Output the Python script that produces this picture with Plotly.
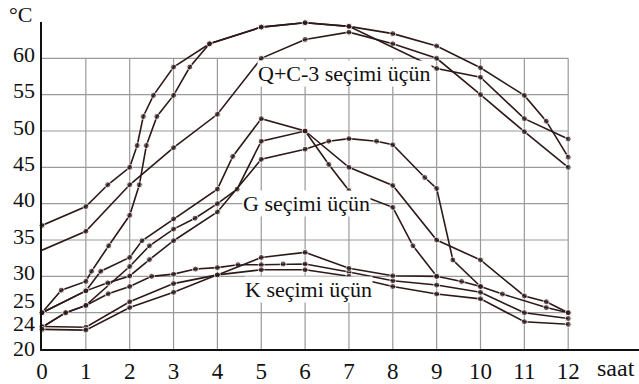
import plotly.graph_objects as go

# ---------------- data ----------------
# Q+C-3 group
Q1_x = [0, 1, 1.5, 2, 2.17, 2.31, 2.54, 3, 3.82, 5, 6, 7, 8, 9, 10, 11, 11.5, 12]
Q1_y = [37, 39.6, 42.6, 45, 48, 52, 54.9, 58.8, 62, 64.3, 64.9, 64.4, 63.4, 61.7, 58.7, 54.9, 51.35, 46.4]
Q2_x = [0, 1, 2, 3, 4, 5, 6, 7, 8, 9, 10, 11, 12]
Q2_y = [33.6, 36.2, 42.6, 47.7, 52.3, 60, 62.6, 63.6, 62.0, 60.0, 55.0, 49.9, 45.0]
Q3_x = [0, 0.44, 1, 1.13, 1.52, 2, 2.22, 2.38, 2.62, 3, 3.37, 3.82, 5, 6, 7, 9, 10, 11, 12]
Q3_y = [25, 28.1, 29.3, 30.7, 34.2, 38.4, 42.6, 48, 52, 54.9, 58.8, 62, 64.3, 64.9, 64.4, 58.6, 57.4, 51.7, 48.9]

# G group
GA_x = [0, 1, 1.34, 2, 2.28, 3, 4, 4.35, 5, 6, 6.54, 7, 8, 8.46, 9]
GA_y = [25, 28, 30.7, 32.6, 34.9, 37.9, 42.0, 46.5, 51.7, 50, 45.4, 41.8, 39.5, 34.2, 30.0]
GB_x = [0, 0.54, 1, 2, 2.45, 3, 3.49, 4, 4.45, 5, 6, 7, 8, 9, 10, 11, 11.5, 12]
GB_y = [23, 25, 26, 31.35, 34.2, 36.5, 38.0, 40.0, 42.0, 48.6, 50, 45, 42.5, 35, 32.25, 27.3, 26.5, 25]
GC_x = [0, 1, 1.5, 2, 2.45, 3, 4, 5, 6, 6.54, 7, 7.63, 8, 8.73, 9, 9.37, 10]
GC_y = [25, 28, 29.1, 30.05, 32.3, 34.9, 38.85, 46.1, 47.5, 48.6, 48.95, 48.6, 48.1, 43.6, 42.1, 32.25, 28.6]

# K group
K1_x = [0, 0.54, 1, 1.51, 2, 2.5, 3, 3.5, 4, 4.47, 5, 5.5, 6, 7, 8, 9, 10, 11, 12]
K1_y = [23, 25, 26, 27.6, 28.6, 30.0, 30.3, 31.0, 31.2, 31.6, 31.6, 31.7, 31.7, 30.6, 29.4, 28.8, 27.8, 25.0, 24.2]
K2_x = [0, 1, 2, 3, 4, 5, 6, 7, 8, 9, 9.57, 10, 10.5, 11.5, 12]
K2_y = [23.1, 23.0, 26.5, 29.0, 30.2, 32.6, 33.3, 31.1, 30.07, 30.0, 29.3, 28.6, 27.57, 25.7, 25.0]
K3_x = [0, 1, 2, 3, 4, 5, 6, 7, 8, 9, 10, 11, 12]
K3_y = [22.7, 22.6, 25.7, 27.8, 30.2, 30.9, 30.9, 30.0, 28.6, 27.57, 26.9, 23.75, 23.4]

X_TICKS = list(range(0, 13))
Y_LABELS = [20, 24, 25, 30, 35, 40, 45, 50, 55, 60]
GRID_Y = [25, 30, 35, 40, 45, 50, 55, 60]
GRID_X = list(range(1, 13))

GROUP_LABELS = ["Q+C-3 seçimi üçün", "G seçimi üçün", "K seçimi üçün"]
GROUP_POS = [(6.9, 57.9), (6.03, 40.0), (6.08, 28.25)]

# --------------- figure ---------------
LINE = "#2e1919"
FONT = "Liberation Serif, DejaVu Serif, Noto Serif, serif"
fig = go.Figure()

series = [(Q1_x, Q1_y), (Q2_x, Q2_y), (Q3_x, Q3_y),
          (GA_x, GA_y), (GB_x, GB_y), (GC_x, GC_y),
          (K1_x, K1_y), (K2_x, K2_y), (K3_x, K3_y)]
for i, (xs, ys) in enumerate(series):
    sizes = [6] * len(xs)
    if i == 1:
        sizes[0] = 0
    fig.add_trace(go.Scatter(x=xs, y=ys, mode="lines+markers",
                             line=dict(color=LINE, width=1.6),
                             marker=dict(size=sizes, color=LINE),
                             showlegend=False, cliponaxis=False,
                             hoverinfo="skip"))

shapes = []
for gx in GRID_X:
    shapes.append(dict(type="line", xref="x", yref="y", x0=gx, x1=gx, y0=20, y1=60,
                       line=dict(color="#9a9a9a", width=1.2), layer="below"))
for gy in GRID_Y:
    shapes.append(dict(type="line", xref="x", yref="y", x0=0, x1=12, y0=gy, y1=gy,
                       line=dict(color="#9a9a9a", width=1.2), layer="below"))

annotations = []
yshift = {20: 1, 24: -4, 25: 12}
for v in Y_LABELS:
    annotations.append(dict(text=str(v), xref="paper", x=0, xanchor="right", xshift=-5,
                            yref="y", y=v, yanchor="middle", yshift=yshift.get(v, 4),
                            showarrow=False, font=dict(family=FONT, size=22, color="#111")))
for t, (ax, ay) in zip(GROUP_LABELS, GROUP_POS):
    annotations.append(dict(text=t, x=ax, y=ay, xref="x", yref="y", showarrow=False,
                            bgcolor="white", borderpad=0,
                            font=dict(family=FONT, size=22, color="#111")))
annotations.append(dict(text="saat", xref="x", x=13.1, yref="y", y=20, yanchor="top",
                        yshift=-4, showarrow=False,
                        font=dict(family=FONT, size=24, color="#111")))
annotations.append(dict(text="°C", xref="paper", x=0, xanchor="right", xshift=-8,
                        yref="y", y=65, yanchor="middle", yshift=8, showarrow=False,
                        font=dict(family=FONT, size=22, color="#111")))

fig.update_layout(
    width=639, height=384,
    margin=dict(l=42, r=0, t=22, b=32),
    plot_bgcolor="white", paper_bgcolor="white",
    font=dict(family=FONT),
    xaxis=dict(range=[0, 597 / 43.85], showgrid=False, zeroline=False,
               showline=True, linecolor="#111", linewidth=2,
               tickvals=X_TICKS, ticktext=[str(v) for v in X_TICKS], ticks="",
               tickfont=dict(family=FONT, size=23, color="#111")),
    yaxis=dict(range=[20, 65], showgrid=False, zeroline=False,
               showline=True, linecolor="#111", linewidth=2,
               showticklabels=False, ticks=""),
    shapes=shapes, annotations=annotations,
)

fig.write_html("out.html")
